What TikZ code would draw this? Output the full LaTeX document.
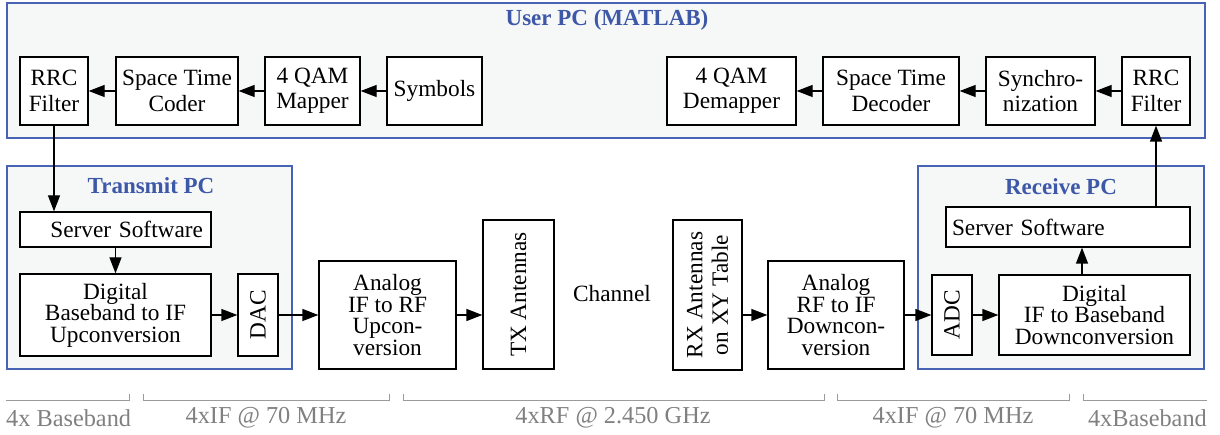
\documentclass[tikz,border=0pt]{standalone}
\usepackage{fontspec}
\setmainfont{Liberation Serif}
\usetikzlibrary{arrows.meta}
\definecolor{frameblue}{RGB}{72,98,180}
\definecolor{titleblue}{RGB}{62,88,168}
\definecolor{framefill}{RGB}{246,248,248}
\definecolor{lblgray}{RGB}{128,128,128}
\definecolor{brkgray}{RGB}{155,155,155}
\begin{document}
\begin{tikzpicture}[x=1pt,y=-1pt,
  frame/.style={draw=frameblue, fill=framefill, line width=1.3pt, inner sep=0pt},
  ftitle/.style={text=titleblue, font=\fontsize{23}{25}\selectfont\bfseries, inner sep=0pt},
  blk/.style={draw=black, fill=white, line width=1.3pt, inner sep=2pt, align=center, font=\fontsize{23.3}{25.5}\selectfont},
  tblk/.style={blk, font=\fontsize{23.3}{21.5}\selectfont},
  arr/.style={-{Triangle[length=16pt,width=12pt]}, line width=1.3pt},
  brk/.style={draw=brkgray, line width=1pt},
  blbl/.style={text=lblgray, font=\fontsize{24.3}{26}\selectfont, inner sep=0pt}]
\useasboundingbox (0,0) rectangle (1220,435);
% frames
\node[frame, minimum width=1198pt, minimum height=135pt] (userpc) at (606,70.5) {};
\node[ftitle] (usert) at (607,20) {User PC (MATLAB)};
\node[frame, minimum width=285pt, minimum height=203pt] (tpc) at (149.5,267.5) {};
\node[ftitle] (tpct) at (151,186) {Transmit PC};
\node[frame, minimum width=286pt, minimum height=203pt] (rpc) at (1061,267.5) {};
\node[ftitle] (rpct) at (1061,187) {Receive PC};
% top row
\node[blk, minimum width=68pt, minimum height=68pt] (rrcL) at (54,91) {RRC\\Filter};
\node[blk, minimum width=122pt, minimum height=68pt] (stc) at (177,91) {Space Time\\Coder};
\node[blk, minimum width=95pt, minimum height=68pt] (map) at (312.5,91) {4 QAM\\Mapper};
\node[blk, minimum width=95pt, minimum height=68pt] (sym) at (434.5,91) {Symbols};
\node[blk, minimum width=129pt, minimum height=68pt] (demap) at (731.5,91) {4 QAM\\Demapper};
\node[blk, minimum width=136pt, minimum height=68pt] (std) at (891,91) {Space Time\\Decoder};
\node[blk, minimum width=109pt, minimum height=68pt] (sync) at (1040.5,91) {Synchro-\\nization};
\node[blk, minimum width=68pt, minimum height=68pt] (rrcR) at (1156,91) {RRC\\Filter};
% transmit side
\node[blk, minimum width=191pt, minimum height=35pt, inner xsep=8pt, text width=175pt, align=right] (srvT) at (115.5,229.5) {Server Software};
\node[tblk, minimum width=191pt, minimum height=82pt] (digT) at (115.5,315) {Digital\\Baseband to IF\\Upconversion};
\node[blk, rotate=90, minimum width=82pt, minimum height=40pt] (dac) at (258,315) {DAC};
\node[tblk, minimum width=137pt, minimum height=108pt] (anaU) at (387.5,315) {Analog\\IF to RF\\Upcon-\\version};
\node[blk, rotate=90, minimum width=149pt, minimum height=71pt] (tx) at (518.5,294.5) {TX Antennas};
\node[font=\fontsize{23.3}{25}\selectfont, inner sep=0pt] (chan) at (612,294) {Channel};
% receive side
\node[blk, rotate=90, minimum width=150pt, minimum height=69pt] (rx) at (707.5,295) {RX Antennas\\on XY Table};
\node[tblk, minimum width=136pt, minimum height=108pt] (anaD) at (836,315) {Analog\\RF to IF\\Downcon-\\version};
\node[blk, rotate=90, minimum width=80pt, minimum height=40pt] (adc) at (952,315) {ADC};
\node[tblk, minimum width=191pt, minimum height=80pt] (digR) at (1094.5,315) {Digital\\IF to Baseband\\Downconversion};
\node[blk, minimum width=244pt, minimum height=40pt, inner xsep=6pt, text width=232pt, align=left] (srvR) at (1068,227) {Server Software};
% top row arrows
\draw[arr] (stc.west) -- (rrcL.east);
\draw[arr] (map.west) -- (stc.east);
\draw[arr] (sym.west) -- (map.east);
\draw[arr] (rrcR.west) -- (sync.east);
\draw[arr] (sync.west) -- (std.east);
\draw[arr] (std.west) -- (demap.east);
% vertical links
\draw[arr] (rrcL.south) -- (rrcL.south |- srvT.north);
\draw[arr] (srvT.south) -- (digT.north);
\draw[arr] ([xshift=-12.5pt]digR.north) -- ([xshift=-12.5pt]digR.north |- srvR.south);
\draw[arr] (rrcR.south |- srvR.north) -- (rrcR.south);
% signal chain
\draw[arr] (digT.east) -- (dac.north);
\draw[arr] (dac.south) -- (anaU.west);
\draw[arr] (anaU.east) -- (tx.north |- anaU.east);
\draw[arr] (rx.south |- anaD.west) -- (anaD.west);
\draw[arr] (anaD.east) -- (adc.north);
\draw[arr] (adc.south) -- (digR.west);
% brackets
\draw[brk] (6,400) -- (129,400) -- (129,394);
\draw[brk] (143,394) -- (143,400) -- (389,400) -- (389,394);
\draw[brk] (403,394) -- (403,400) -- (824,400) -- (824,394);
\draw[brk] (837,394) -- (837,400) -- (1069,400) -- (1069,394);
\draw[brk] (1083,394) -- (1083,400) -- (1207,400);
\node[blbl, anchor=west] (l1) at (6,418) {4x Baseband};
\node[blbl] (l2) at (266,418) {4xIF @ 70 MHz};
\node[blbl] (l3) at (613,418) {4xRF @ 2.450 GHz};
\node[blbl] (l4) at (953,418) {4xIF @ 70 MHz};
\node[blbl, anchor=east] (l5) at (1207,418) {4xBaseband};
\end{tikzpicture}
\end{document}
